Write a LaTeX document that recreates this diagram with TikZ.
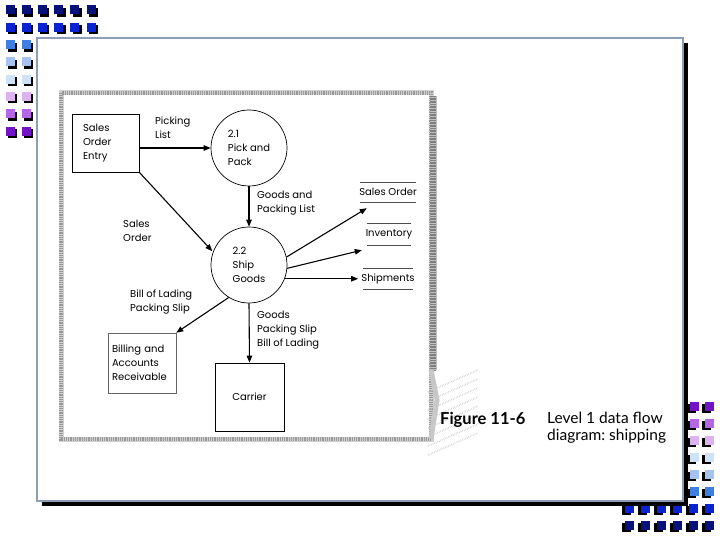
\documentclass[tikz,border=0pt]{standalone}
\usepackage{fontspec}
\setmainfont{Poppins}
\newfontfamily\capfont{Lato}
\usetikzlibrary{arrows.meta,calc}
\frenchspacing
\definecolor{sqA}{HTML}{06127A}
\definecolor{sqB}{HTML}{0A22D0}
\definecolor{sqC}{HTML}{3E7FE0}
\definecolor{sqD}{HTML}{A6C2F0}
\definecolor{sqE}{HTML}{CFE3F8}
\definecolor{sqF}{HTML}{DCB2F0}
\definecolor{sqG}{HTML}{B466E6}
\definecolor{sqH}{HTML}{7214C6}
\definecolor{framec}{HTML}{8E9CB4}
\tikzset{
  pics/sqbr/.style={code={\fill[black] (-2,-2) rectangle (7,7); \fill[#1] (-4.5,-4.5) rectangle (4.5,4.5);}},
  pics/sqbl/.style={code={\fill[black] (-7,-2) rectangle (2,7); \fill[#1] (-4.5,-4.5) rectangle (4.5,4.5);}},
  dfont/.style={font=\fontsize{10}{14.2}\selectfont},
  txt/.style={dfont, align=left, inner sep=0pt},
  arr/.style={-{Triangle[length=7pt,width=5.5pt]}, line width=1.1pt},
  proc/.style={circle, draw, line width=0.7pt, minimum size=76pt, inner sep=0pt, dfont, align=left},
  ent/.style={draw, line width=0.7pt, inner ysep=0pt, dfont, align=left},
  store/.style={inner sep=0pt, dfont},
  storeline/.style={line width=0.5pt, black!70},
  scan/.style={line width=5pt, black!18},
  scandot/.style={line width=4pt, black!40, dash pattern=on 0.5pt off 1.3pt},
}
\begin{document}
\begin{tikzpicture}[x=1pt,y=-1pt]
\useasboundingbox (0,0) rectangle (720,540);
\fill[white] (0,0) rectangle (720,540);
% decorative squares, top left
\foreach \i in {0,...,5} {
  \pgfmathsetmacro\xx{10+16.2*\i}
  \pic at (\xx,10) {sqbr=sqA};
  \pic at (\xx,27.3) {sqbr=sqB};
}
\foreach \j/\c in {2/sqC,3/sqD,4/sqE,5/sqF,6/sqG,7/sqH} {
  \pgfmathsetmacro\yy{10+17.3*\j}
  \pic at (10,\yy) {sqbr=\c};
  \pic at (26.2,\yy) {sqbr=\c};
}
% decorative squares, bottom right
\foreach \i in {0,...,5} {
  \pgfmathsetmacro\xx{629+16*\i}
  \pic at (\xx,508) {sqbl=sqB};
  \pic at (\xx,525) {sqbl=sqA};
}
\foreach \j/\c in {0/sqH,1/sqG,2/sqF,3/sqE,4/sqD,5/sqC} {
  \pgfmathsetmacro\yy{406+17*\j}
  \pic at (694,\yy) {sqbl=\c};
  \pic at (709,\yy) {sqbl=\c};
}
% slide frame
\fill[black] (42,43) rectangle (688,506);
\fill[white] (37,38) rectangle (683,501);
\draw[framec, line width=2pt] (37,38) rectangle (683,501);
% scanned page border
\draw[scan] (61,93) rectangle (431,439);
\draw[scandot] (61,93) rectangle (431,439);
\draw[line width=7pt, black!25] (433,96) -- (433,370);
\draw[line width=6pt, black!50, dash pattern=on 0.6pt off 1pt] (433,96) -- (433,370);
\draw[line width=5pt, black!22] (431,370) -- (437,400) -- (431,439);
\foreach \k in {0,...,7} {
  \pgfmathsetmacro\yy{380+9*\k}
  \draw[black!18, line width=1.6pt, dash pattern=on 0.6pt off 1.1pt] (428,\yy+12) -- (478,\yy-10);
}
% processes and entities
\node[ent, minimum width=67pt, minimum height=58pt, text width=45pt, inner xsep=11pt] (soe) at (105.5,143) {Sales\\Order\\Entry};
\node[proc] (c21) at (249,148) {2.1\\Pick and\\Pack};
\node[proc] (c22) at (249,265) {2.2\\Ship\\Goods};
\node[ent, draw=black!60, line width=0.5pt, minimum width=68pt, minimum height=60pt, text width=60pt, inner xsep=4pt] (bar) at (142,363) {Billing and\\Accounts\\Receivable};
\node[ent, minimum width=69pt, minimum height=68pt, align=center] (car) at (249.5,397) {Carrier};
% data stores
\node[store, minimum width=60pt, minimum height=20pt] (sos) at (388,192) {Sales Order};
\node[store, minimum width=48pt, minimum height=22pt] (inv) at (389,234) {Inventory};
\node[store, minimum width=46pt, minimum height=21pt] (shp) at (388,279) {Shipments};
\foreach \s in {sos,inv,shp} {
  \draw[storeline] ([xshift=2pt]\s.north west) -- ([xshift=-2pt]\s.north east);
  \draw[storeline] ([xshift=2pt]\s.south west) -- ([xshift=-2pt]\s.south east);
}
\coordinate (shpin) at ([xshift=-3pt]shp.west);
% flows
\draw[arr] (soe.east |- c21.west) -- (c21.west);
\draw[arr] (c21.south) -- (c22.north);
\draw[arr, shorten >=1pt] (soe.south east) -- (c22.160);
\draw[arr] (c22.12) -- ([xshift=9pt,yshift=-6pt]sos.south west);
\draw[arr] (c22.-5) -- ([xshift=-3pt,yshift=-5pt]inv.south west);
\draw[arr] (c22.-21) -- (c22.-21 -| shpin);
\draw[arr] (c22.238) -- (bar.north east);
\draw[arr] (c22.south) -- (car.north);
% flow labels
\node[txt, anchor=west] (lpick) at (155,128) {Picking\\List};
\node[txt, anchor=west] (lgpl) at (257,203) {Goods and\\Packing List};
\node[txt, anchor=west] (lso) at (123,231) {Sales\\Order};
\node[txt, anchor=west] (lbol) at (130,302) {Bill of Lading\\Packing Slip};
\node[txt, anchor=west] (lgoods) at (257,330) {Goods\\Packing Slip\\Bill of Lading};
% caption
\node[anchor=base west, inner sep=0pt, font=\capfont\bfseries\fontsize{16.5}{18}\selectfont] (fig) at (440,424) {Figure 11-6};
\node[anchor=base west, inner sep=0pt, font=\capfont\fontsize{15.5}{18}\selectfont] (cap1) at (547,423) {Level 1 data flow};
\node[anchor=base west, inner sep=0pt, font=\capfont\fontsize{15.5}{18}\selectfont] (cap2) at (547,440) {diagram: shipping};
\end{tikzpicture}
\end{document}
